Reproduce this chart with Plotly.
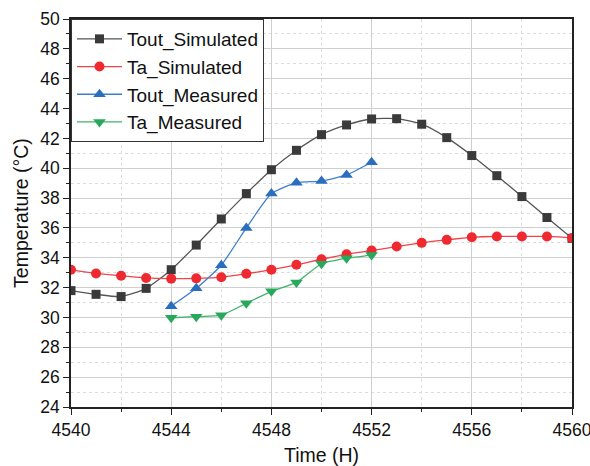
import plotly.graph_objects as go

# Hourly time axis
hours_sim = list(range(4540, 4561))
hours_meas = list(range(4544, 4553))

tout_simulated = [31.8, 31.55, 31.4, 31.95, 33.2, 34.85, 36.6, 38.3, 39.9, 41.2, 42.25,
                  42.9, 43.3, 43.32, 42.95, 42.05, 40.85, 39.5, 38.1, 36.7, 35.3]
ta_simulated = [33.2, 32.95, 32.8, 32.65, 32.6, 32.62, 32.7, 32.93, 33.2, 33.53, 33.9,
                34.23, 34.48, 34.75, 35.0, 35.2, 35.37, 35.43, 35.43, 35.43, 35.33]
tout_measured = [30.75, 31.95, 33.5, 36.0, 38.3, 39.03, 39.14, 39.55, 40.4]
ta_measured = [29.98, 30.05, 30.15, 30.95, 31.75, 32.35, 33.6, 33.96, 34.18]

x_ticks = [4540, 4544, 4548, 4552, 4556, 4560]
y_ticks = list(range(24, 51, 2))

FONT = "Liberation Sans, Arial, sans-serif"

fig = go.Figure()

fig.add_trace(go.Scatter(
    x=hours_sim, y=tout_simulated, name="Tout_Simulated", mode="lines+markers",
    line=dict(color="#555555", width=1.3, shape="spline", smoothing=0.6),
    marker=dict(symbol="square", size=9, color="#3a3a3a")))
fig.add_trace(go.Scatter(
    x=hours_sim, y=ta_simulated, name="Ta_Simulated", mode="lines+markers",
    line=dict(color="#f0434a", width=1.3, shape="spline", smoothing=1.3),
    marker=dict(symbol="circle", size=10, color="#ee2a30")))
fig.add_trace(go.Scatter(
    x=hours_meas, y=tout_measured, name="Tout_Measured", mode="lines+markers",
    line=dict(color="#3d7fcc", width=1.3, shape="spline", smoothing=0.5),
    marker=dict(symbol="triangle-up", size=11, color="#2a6ebf")))
fig.add_trace(go.Scatter(
    x=hours_meas, y=ta_measured, name="Ta_Measured", mode="lines+markers",
    line=dict(color="#3cb56a", width=1.3, shape="spline", smoothing=0.5),
    marker=dict(symbol="triangle-down", size=11, color="#27a85a")))

axis_font = dict(family=FONT, size=17.5, color="#111111")

fig.update_layout(
    width=590, height=466,
    margin=dict(l=71, r=18, t=19, b=59),
    paper_bgcolor="white", plot_bgcolor="white",
    font=dict(family=FONT, color="#111111"),
    showlegend=True,
    legend=dict(
        x=0, y=1, xanchor="left", yanchor="top",
        bgcolor="white", bordercolor="#333333", borderwidth=1,
        font=dict(size=19, color="#111111"),
        tracegroupgap=0, itemwidth=45,
    ),
    xaxis=dict(
        range=[4540, 4560], tickvals=x_ticks, ticktext=[str(v) for v in x_ticks],
        showline=True, linecolor="#222222", linewidth=1.5, mirror=True,
        ticks="outside", ticklen=6, tickwidth=1.3, tickcolor="#222222",
        showgrid=True, gridcolor="#cfcfcf", gridwidth=1,
        minor=dict(dtick=2, tick0=4540, ticks="outside", ticklen=3, tickcolor="#222222",
                   showgrid=True, gridcolor="#dcdcdc", griddash="dot", gridwidth=1),
        tickfont=axis_font, zeroline=False, automargin=False,
        ticklabeloverflow="allow",
    ),
    yaxis=dict(
        range=[24, 50], tickvals=y_ticks, ticktext=[str(v) for v in y_ticks],
        showline=True, linecolor="#222222", linewidth=1.5, mirror=True,
        ticks="outside", ticklen=6, tickwidth=1.3, tickcolor="#222222",
        showgrid=True, gridcolor="#cfcfcf", gridwidth=1,
        minor=dict(dtick=1, tick0=24, ticks="outside", ticklen=3, tickcolor="#222222",
                   showgrid=True, gridcolor="#dcdcdc", griddash="dot", gridwidth=1),
        tickfont=axis_font, zeroline=False, automargin=False,
        ticklabeloverflow="allow",
    ),
    annotations=[
        dict(text="Time (H)", xref="paper", yref="paper", x=0.5, y=-0.124,
             xanchor="center", yanchor="middle", showarrow=False,
             font=dict(family=FONT, size=19.5, color="#111111")),
        dict(text="Temperature (°C)", xref="paper", yref="paper", x=-0.1, y=0.5,
             xanchor="center", yanchor="middle", textangle=-90, showarrow=False,
             font=dict(family=FONT, size=19.5, color="#111111")),
    ],
)

fig.write_html("out.html")
